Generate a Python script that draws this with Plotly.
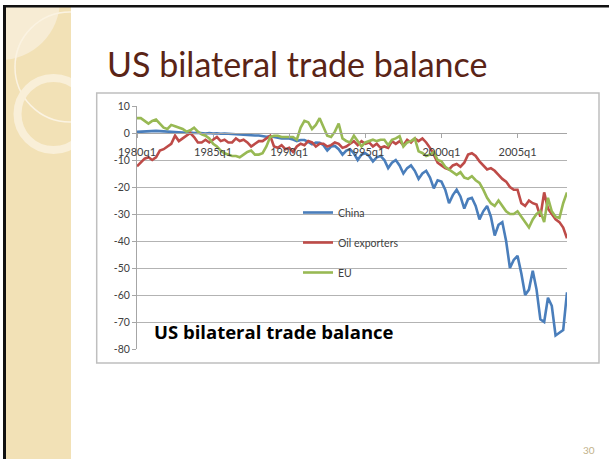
import plotly.graph_objects as go

# ---------------- data ----------------
years = list(range(1980, 2009))
quarters = [f"{y}q{q}" for y in years for q in range(1, 5)][:114]

tick_labels = ["1980q1", "1985q1", "1990q1", "1995q1", "2000q1", "2005q1"]
y_ticks = [10, 0, -10, -20, -30, -40, -50, -60, -70, -80]

china = [
    0.4, 0.5, 0.6, 0.7,  0.7, 0.8, 0.7, 0.6,  0.5, 0.4, 0.3, 0.4,  0.2, 0.1, 0.2, 0.0,
    0.1, -0.1, -0.2, 0.0,  -0.2, -0.1, -0.3, -0.2,  -0.3, -0.4, -0.6, -0.5,  -0.6, -0.8, -1.0, -0.9,
    -0.9, -1.1, -1.4, -1.2,  -1.4, -1.6, -2.0, -1.9,  -2.0, -2.4, -3.0, -2.6,  -2.6, -3.3, -4.2, -3.5,
    -3.6, -4.5, -6.5, -5.0,  -4.8, -6.0, -8.0, -6.5,  -6.0, -7.5, -10.0, -8.0,  -7.5, -8.5, -10.5, -9.0,
    -8.5, -10.0, -13.0, -11.0,  -10.0, -12.0, -15.0, -13.0,  -12.0, -14.0, -17.0, -15.0,  -14.0, -16.5, -20.5, -17.5,
    -18.0, -21.0, -26.0, -23.0,  -21.0, -23.5, -28.0, -24.5,  -24.0, -27.0, -32.0, -29.0,  -27.0, -31.0, -38.0, -34.0,
    -33.0, -40.0, -50.0, -47.0,  -45.5, -52.0, -60.0, -58.0,  -51.0, -58.0, -69.0, -70.0,  -61.0, -64.0, -75.0, -74.0,
    -73.0, -59.0,
]

oil = [
    -12.3, -11.0, -9.5, -9.0,  -10.0, -9.0, -6.5, -6.0,  -5.0, -4.0, -1.0, -3.0,  -2.0, -1.0, 0.0, -1.5,
    -3.5, -3.5, -2.5, -3.5,  -2.5, -1.5, -3.0, -2.5,  -3.5, -3.5, -2.0, -3.0,  -2.5, -3.5, -5.0, -4.0,
    -3.0, -3.0, -2.0, -1.0,  -5.0, -5.5, -4.5, -6.0,  -5.5, -7.0, -5.0, -4.0,  -4.5, -3.0, -3.5, -5.0,
    -4.0, -4.0, -5.0, -4.5,  -3.5, -4.0, -5.5, -5.0,  -4.0, -3.0, -4.5, -3.0,  -4.0, -3.5, -5.0, -4.0,
    -5.5, -5.0, -5.5, -3.0,  -4.0, -3.0, -4.5, -2.5,  -3.5, -2.0, -3.0, -2.0,  -3.5, -5.5, -8.0, -11.0,
    -12.0, -13.0, -13.5, -12.0,  -11.5, -12.5, -11.0, -8.0,  -7.5, -8.5, -10.5, -12.0,  -13.5, -13.0, -14.0, -15.5,
    -17.0, -18.0, -20.0, -21.0,  -21.0, -26.0, -27.0, -25.0,  -26.0, -26.5, -31.0, -22.0,  -28.0, -30.0, -32.0, -33.0,
    -35.0, -39.0,
]

eu = [
    5.5, 5.5, 4.5, 3.5,  4.5, 5.0, 3.5, 2.0,  1.5, 3.0, 2.5, 2.0,  1.5, 0.5, 1.0, 2.0,
    0.5, -0.5, -1.0, -2.0,  -4.0, -5.0, -6.5, -7.5,  -8.0, -8.5, -8.5, -9.0,  -8.0, -7.0, -6.5, -8.0,
    -8.0, -7.5, -5.0, -1.5,  -1.0, -1.0, -1.5, -1.5,  -1.5, -1.5, -2.5, 2.0,  4.5, 4.0, 1.5, 3.0,
    5.5, 2.0, -1.0, -1.5,  0.5, 3.5, -2.0, -3.0,  -3.5, -1.0, -3.0, -5.0,  -3.5, -3.0, -2.5, -3.0,
    -2.5, -2.5, -4.5, -2.5,  -2.0, -1.2, -5.0, -3.5,  -3.0, -2.0, -6.8, -7.4,  -8.5, -8.0, -7.0, -10.0,
    -10.5, -12.5, -13.5, -14.5,  -15.5, -14.5, -16.5, -17.0,  -16.0, -17.5, -18.5, -21.0,  -24.0, -26.0, -27.0, -25.0,
    -27.0, -29.0, -30.0, -30.0,  -29.0, -31.0, -33.0, -35.0,  -32.0, -30.0, -29.0, -33.0,  -24.0, -29.0, -31.0, -31.5,
    -26.0, -22.0,
]

series_names = ["China", "Oil exporters", "EU"]
series_colors = ["#4A7EBB", "#BE4B48", "#98B954"]

# ---------------- layout helpers (pixel -> paper) ----------------
W, H = 609, 459
L, R, T, B = 137, 567, 106, 349


def px(x):
    return (x - L) / (R - L)


def py(y):
    return (B - y) / (B - T)


idx = list(range(len(quarters)))
fig = go.Figure()
for i, (name, vals, col) in enumerate(zip(series_names, [china, oil, eu], series_colors)):
    fig.add_trace(go.Scatter(
        x=idx, y=vals, mode="lines", name=name,
        line=dict(color=col, width=2.6),
        legendgroup=f"g{i}",
        customdata=quarters[:len(vals)],
        hovertemplate="%{customdata}: %{y}<extra>" + name + "</extra>",
    ))

tick_idx = [quarters.index(t) for t in tick_labels]

shapes = []
# decorative left strip
shapes.append(dict(type="rect", xref="paper", yref="paper", x0=px(6), x1=px(71), y0=py(7), y1=py(459),
                   fillcolor="#F2E1B6", line=dict(width=0), layer="below"))
shapes.append(dict(type="circle", xref="paper", yref="paper", x0=px(-60), x1=px(60), y0=py(-60), y1=py(60),
                   fillcolor="#F7ECD4", line=dict(width=0), layer="below"))
shapes.append(dict(type="circle", xref="paper", yref="paper", x0=px(15), x1=px(125), y0=py(12), y1=py(122),
                   fillcolor="rgba(0,0,0,0)", line=dict(color="#FBF3E2", width=1.5), layer="below"))
shapes.append(dict(type="circle", xref="paper", yref="paper", x0=px(17.5), x1=px(89.5), y0=py(78), y1=py(150),
                   fillcolor="rgba(0,0,0,0)", line=dict(color="#F9EFD8", width=8), layer="below"))
# clip the decorations to the strip
shapes.append(dict(type="rect", xref="paper", yref="paper", x0=px(71), x1=px(136), y0=py(7), y1=py(160),
                   fillcolor="white", line=dict(width=0), layer="below"))
shapes.append(dict(type="rect", xref="paper", yref="paper", x0=px(0), x1=px(609), y0=py(0), y1=py(5),
                   fillcolor="white", line=dict(width=0), layer="below"))
shapes.append(dict(type="rect", xref="paper", yref="paper", x0=px(-5), x1=px(3), y0=py(0), y1=py(459),
                   fillcolor="white", line=dict(width=0), layer="below"))
# slide frame (top and left black edges)
shapes.append(dict(type="rect", xref="paper", yref="paper", x0=px(3), x1=px(609), y0=py(5), y1=py(7.5),
                   fillcolor="#111111", line=dict(width=0), layer="below"))
shapes.append(dict(type="rect", xref="paper", yref="paper", x0=px(3), x1=px(6), y0=py(5), y1=py(459),
                   fillcolor="#111111", line=dict(width=0), layer="below"))
# chart box
shapes.append(dict(type="rect", xref="paper", yref="paper", x0=px(96.7), x1=px(599), y0=py(93), y1=py(363),
                   fillcolor="rgba(0,0,0,0)", line=dict(color="#BFBFBF", width=1.5), layer="below"))

annotations = [
    dict(text="US bilateral trade balance", xref="paper", yref="paper", x=px(105), y=py(64),
         xanchor="left", yanchor="middle", showarrow=False,
         font=dict(family="Lato", size=34, color="#5A2416")),
    dict(text="<b>US bilateral trade balance</b>", xref="paper", yref="paper", x=px(152), y=py(331),
         xanchor="left", yanchor="middle", showarrow=False,
         font=dict(family="Open Sans", size=18.5, color="#000000")),
    dict(text="30", xref="paper", yref="paper", x=px(597), y=py(450),
         xanchor="right", yanchor="middle", showarrow=False,
         font=dict(family="Lato", size=10, color="#C2B28A")),
]

fig.update_layout(
    width=W, height=H, autosize=False,
    margin=dict(l=L, r=W - R, t=T, b=H - B, pad=0),
    paper_bgcolor="white", plot_bgcolor="white",
    font=dict(family="Lato", size=11, color="#404040"),
    showlegend=True,
    legend=dict(x=px(298), y=py(198), xanchor="left", yanchor="top",
                bgcolor="rgba(0,0,0,0)", traceorder="grouped", tracegroupgap=11,
                font=dict(family="Lato", size=10.5, color="#404040"), itemwidth=30),
    shapes=shapes,
    annotations=annotations,
    hovermode="closest",
)

fig.update_xaxes(
    range=[0, len(quarters) - 1], anchor="free", position=80 / 90,
    showline=True, linecolor="#A6A6A6", linewidth=1,
    showgrid=False, zeroline=False,
    tickmode="array", tickvals=tick_idx, ticktext=tick_labels,
    ticks="outside", ticklen=4, tickcolor="#A6A6A6",
    ticklabelstandoff=5,
    tickfont=dict(family="Lato", size=11, color="#404040"),
)
fig.update_yaxes(
    range=[-80, 10], tickmode="array", tickvals=y_ticks, ticktext=[str(v) for v in y_ticks],
    showline=True, linecolor="#A6A6A6", linewidth=1,
    showgrid=True, gridcolor="#B3B3B3", gridwidth=1, zeroline=False,
    ticks="outside", ticklen=4, tickcolor="#A6A6A6",
    tickfont=dict(family="Lato", size=10.5, color="#404040"),
)

fig.write_html("out.html", config={"displayModeBar": False},
               post_script="document.body.style.margin='0';")
